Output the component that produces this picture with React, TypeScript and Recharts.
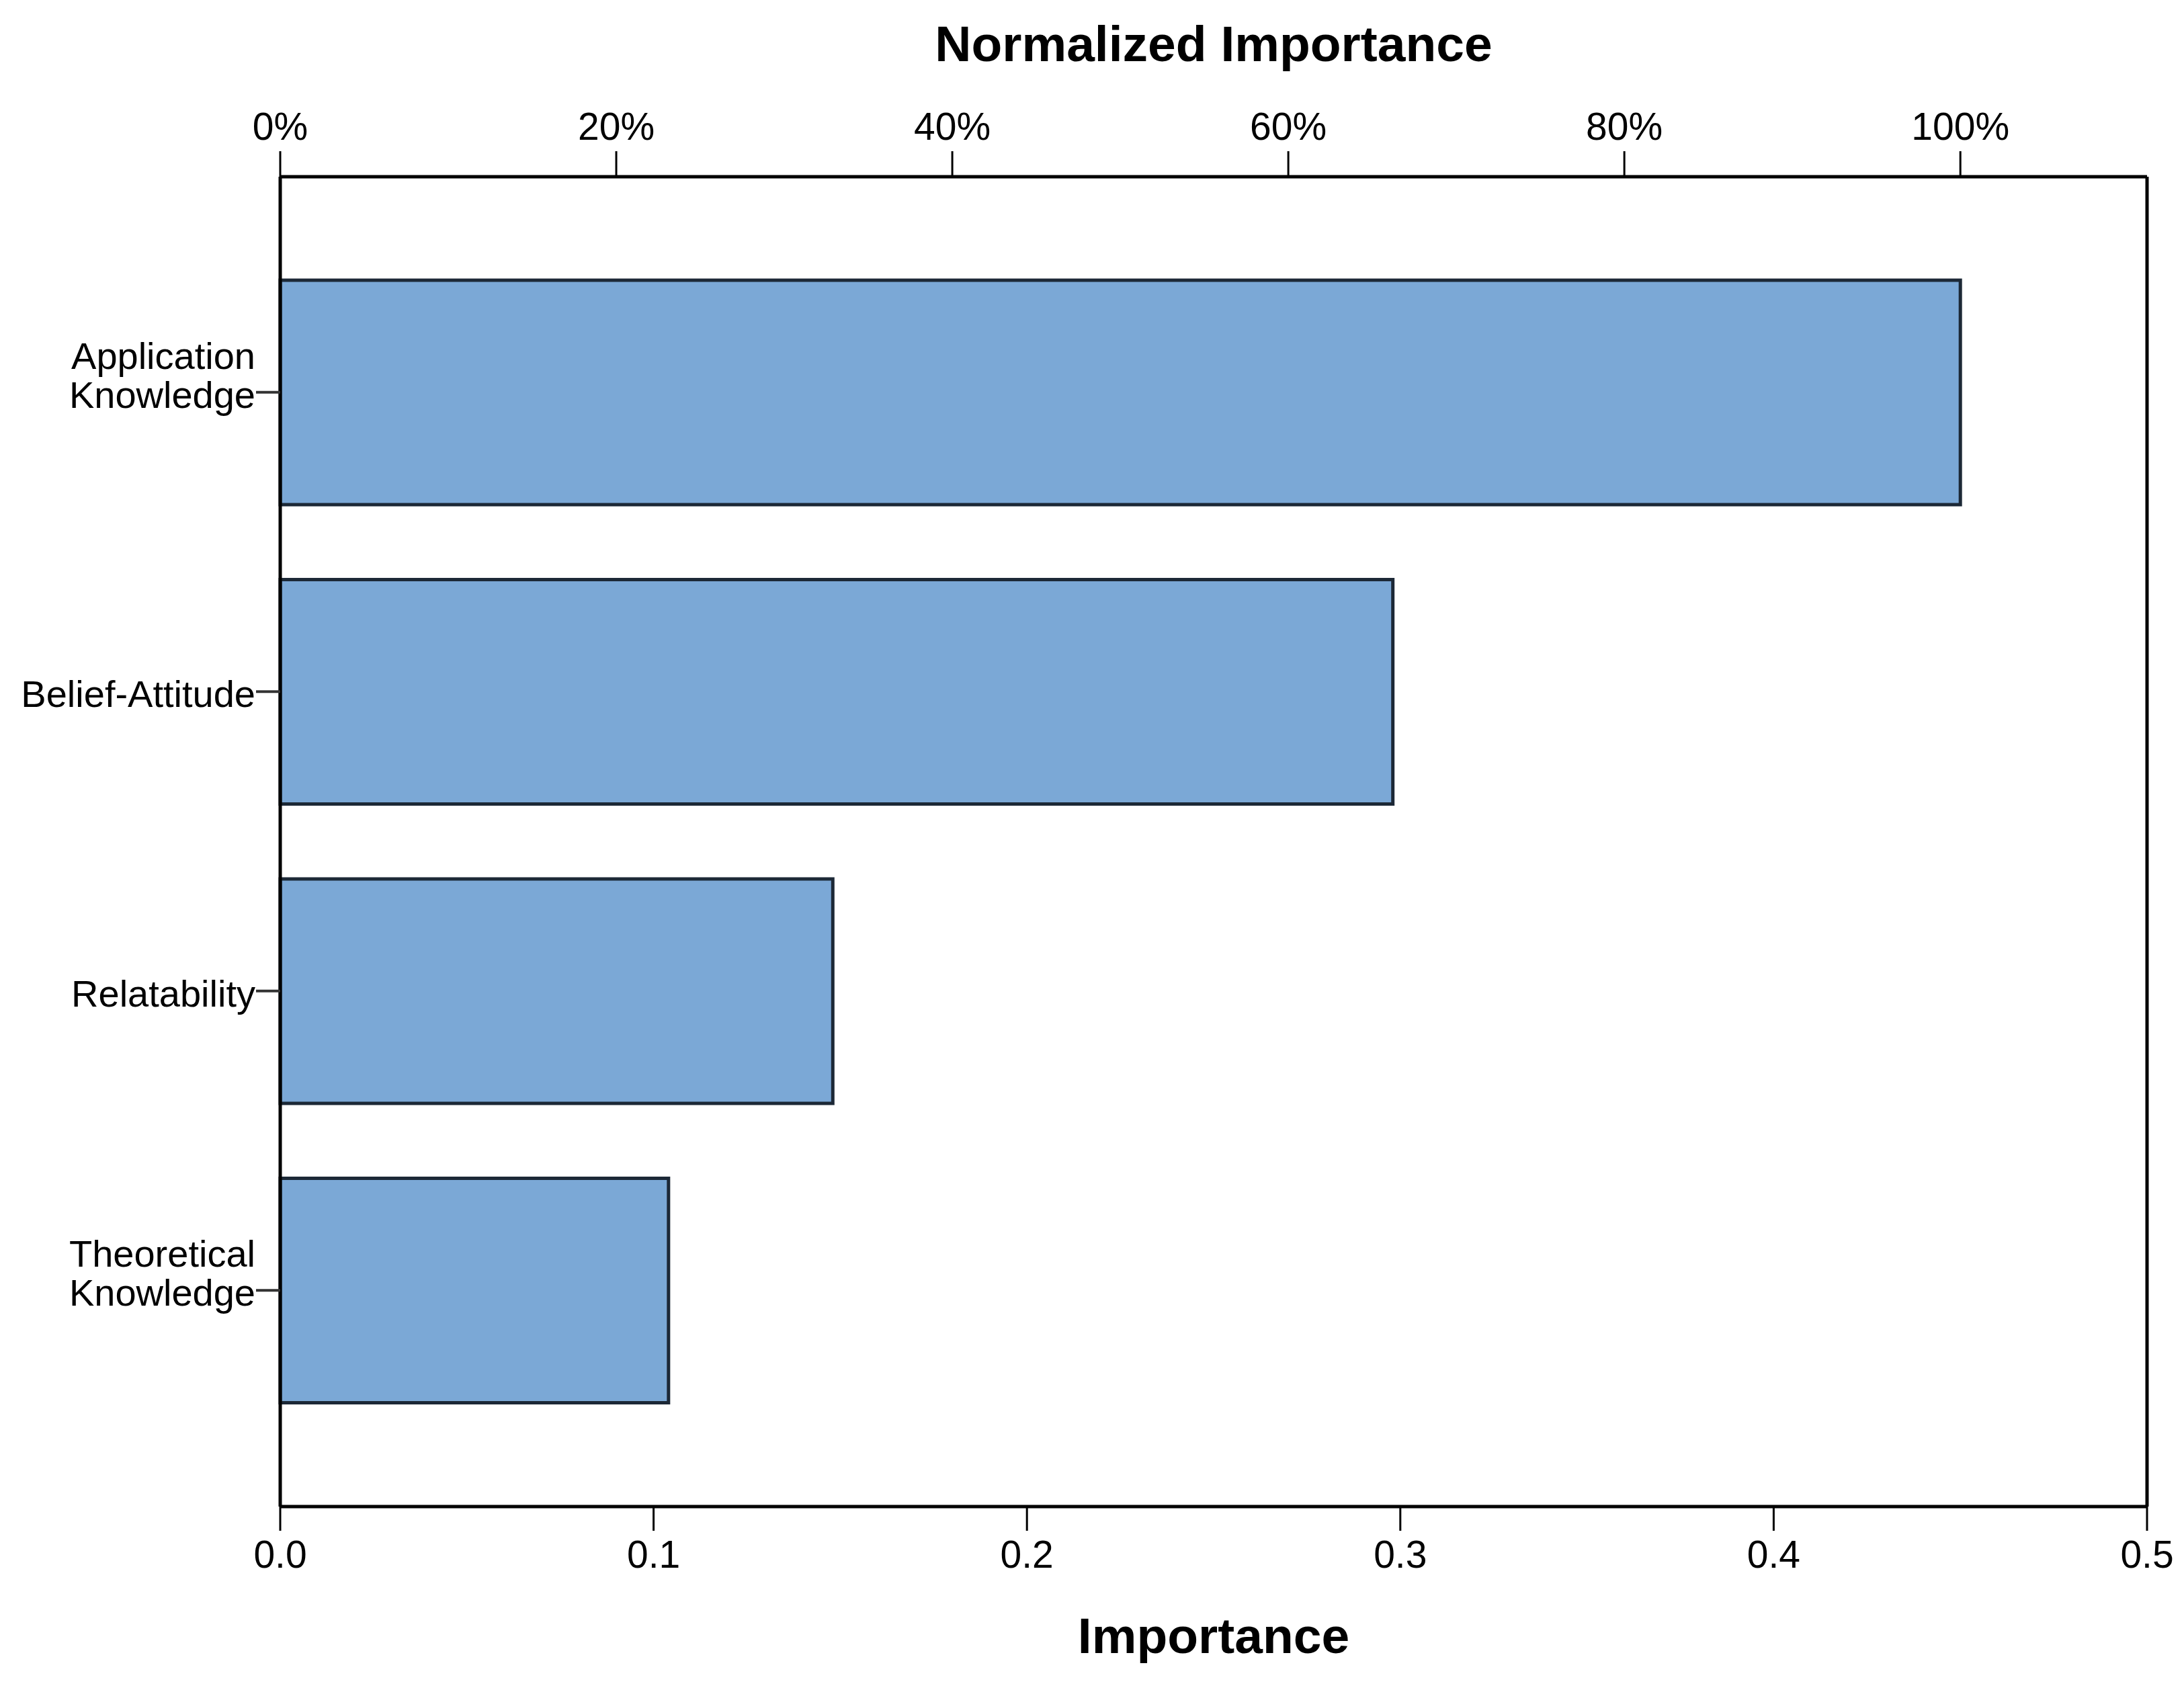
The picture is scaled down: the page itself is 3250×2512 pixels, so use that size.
import { ComposedChart, Bar, Line, XAxis, YAxis, ReferenceLine } from 'recharts'

const categories = ['Application Knowledge', 'Belief-Attitude', 'Relatability', 'Theoretical Knowledge']
const importance = [0.45, 0.298, 0.148, 0.104]
const normalizedImportance = [100, 66.2, 32.8, 23.2]
const importanceTicks = [0, 0.1, 0.2, 0.3, 0.4, 0.5]
const normalizedTicks = [0, 20, 40, 60, 80, 100]

const data = categories.map((category, i) => ({
  category,
  importance: importance[i],
  normalized: normalizedImportance[i],
}))

// top axis lines up 100% with the largest importance value
const normalizedMax = (importanceTicks[importanceTicks.length - 1] / importance[0]) * normalizedImportance[0]

const font = '"Liberation Sans", Arial, sans-serif'

function CategoryTick(props: any) {
  const { x, y, payload } = props
  const lines = String(payload.value).split(' ')
  return (
    <g>
      {lines.map((line: string, i: number) => (
        <text
          key={i}
          x={x}
          y={y + 23 - (lines.length - 1 - i) * 58}
          textAnchor="end"
          fontSize={56}
          fontFamily={font}
          fill="#000"
        >
          {line}
        </text>
      ))}
    </g>
  )
}

export default function App() {
  return (
    <div style={{ width: 3250, height: 2512, background: '#fff' }}>
      <style>{`body { margin: 0; }`}</style>
      <ComposedChart
        width={3250}
        height={2512}
        data={data}
        layout="vertical"
        margin={{ top: 0, right: 55, bottom: 0, left: 0 }}
      >
        <XAxis
          xAxisId="top"
          orientation="top"
          type="number"
          domain={[0, normalizedMax]}
          ticks={normalizedTicks}
          tickFormatter={(v) => `${v}%`}
          height={263}
          tickSize={38}
          tickMargin={17}
          axisLine={{ stroke: '#000', strokeWidth: 5 }}
          tickLine={{ stroke: '#000', strokeWidth: 3 }}
          tick={{ fontSize: 57, fill: '#000', fontFamily: font }}
          label={{
            value: 'Normalized Importance',
            position: 'insideTop',
            offset: 38,
            style: { fontSize: 75, fontWeight: 'bold', fill: '#000', fontFamily: font },
          }}
        />
        <XAxis
          xAxisId="bottom"
          orientation="bottom"
          type="number"
          domain={[0, 0.5]}
          ticks={importanceTicks}
          tickFormatter={(v) => v.toFixed(1)}
          height={270}
          tickSize={36}
          tickMargin={15}
          axisLine={{ stroke: '#000', strokeWidth: 5 }}
          tickLine={{ stroke: '#000', strokeWidth: 3 }}
          tick={{ fontSize: 57, fill: '#000', fontFamily: font }}
          label={{
            value: 'Importance',
            position: 'insideBottom',
            offset: 52,
            style: { fontSize: 75, fontWeight: 'bold', fill: '#000', fontFamily: font },
          }}
        />
        <YAxis
          type="category"
          dataKey="category"
          width={417}
          padding={{ top: 98, bottom: 99 }}
          tickSize={36}
          tickMargin={1}
          axisLine={{ stroke: '#000', strokeWidth: 5 }}
          tickLine={{ stroke: '#333', strokeWidth: 4 }}
          tick={<CategoryTick />}
        />
        <ReferenceLine x={0.5} xAxisId="bottom" stroke="#000" strokeWidth={5} />
        <Bar
          xAxisId="bottom"
          dataKey="importance"
          barSize={334}
          fill="#7BA8D6"
          stroke="#1c2836"
          strokeWidth={5}
          isAnimationActive={false}
        />
        <Line
          xAxisId="top"
          dataKey="normalized"
          stroke="none"
          dot={false}
          activeDot={false}
          legendType="none"
          isAnimationActive={false}
        />
      </ComposedChart>
    </div>
  )
}
